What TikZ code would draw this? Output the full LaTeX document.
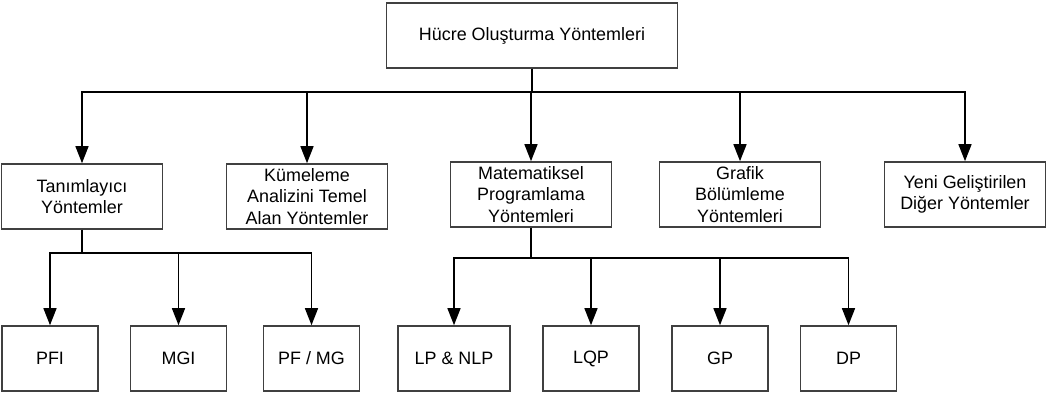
\documentclass[tikz,border=0pt]{standalone}
\usepackage{fontspec}
\setmainfont{Liberation Sans}
\usetikzlibrary{arrows.meta,positioning}
\tikzset{
  blk/.style={draw=black!75, line width=0.9pt, align=center, minimum width=3.22cm, minimum height=1.3cm, inner sep=1pt, font=\fontsize{10.2}{12.3}\selectfont},
  sub/.style={blk, minimum width=1.92cm},
  arr/.style={-{Triangle[length=3.4mm, width=2.6mm]}, line width=0.8pt}
}

\begin{document}
\begin{tikzpicture}[x=0.02cm, y=-0.02cm]
  \useasboundingbox (0,0) rectangle (1048,404);
  \node[blk, minimum width=5.82cm] (top) at (532,35.5) {Hücre Oluşturma Yöntemleri};
  % second level
  \node[blk] (tan) at (82,196.5) {Tanımlayıcı\\Yöntemler};
  \node[blk] (kum) at (307,196.5) {Kümeleme\\Analizini Temel\\Alan Yöntemler};
  \node[blk] (mat) at (531,194.5) {Matematiksel\\Programlama\\Yöntemleri};
  \node[blk] (gra) at (740,194.5) {Grafik\\Bölümleme\\Yöntemleri};
  \node[blk] (yen) at (965,194.5) {Yeni Geliştirilen\\Diğer Yöntemler};
  \coordinate (bus) at (532,92);
  \foreach \n in {tan,kum,mat,gra,yen}
    \draw[arr] (top.south) -- (bus) -| (\n.north);
  % third level
  \node[sub] (pfi) at (50,358.5) {PFI};
  \node[sub] (mgi) at (178.5,358.5) {MGI};
  \node[sub] (pfmg) at (311.5,358.5) {PF / MG};
  \node[sub, minimum width=2.24cm] (lp) at (454,358.5) {LP \& NLP};
  \node[sub] (lqp) at (591,358.5) {LQP};
  \node[sub] (gp) at (720,358.5) {GP};
  \node[sub] (dp) at (848.5,358.5) {DP};
  \coordinate (tbus) at (82,253);
  \coordinate (mbus) at (531,258);
  \foreach \n in {pfi,mgi,pfmg}
    \draw[arr] (tan.south) -- (tbus) -| (\n.north);
  \foreach \n in {lp,lqp,gp,dp}
    \draw[arr] (mat.south) -- (mbus) -| (\n.north);
\end{tikzpicture}
\end{document}
